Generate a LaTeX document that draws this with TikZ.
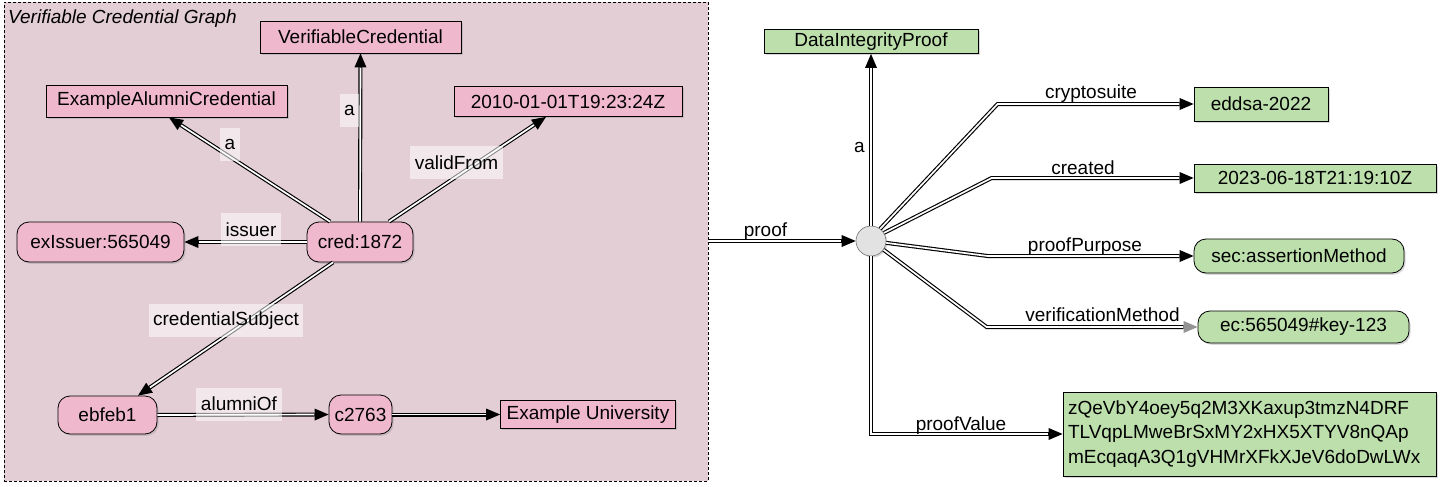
\documentclass[tikz,border=0pt]{standalone}
\usepackage{fontspec}
\setmainfont{Liberation Sans}
\usetikzlibrary{arrows.meta,shadows,calc}
\definecolor{framebg}{RGB}{227,206,214}
\definecolor{pinkc}{RGB}{240,184,205}
\definecolor{greenc}{RGB}{188,223,172}
\definecolor{blankc}{RGB}{226,226,226}
\begin{document}
\begin{tikzpicture}[x=1pt,y=-1pt,
  every node/.style={font=\fontsize{19}{23}\selectfont},
  framebox/.style={draw=black, line width=0.7pt, dash pattern=on 3pt off 2pt, fill=framebg, inner sep=0pt},
  ttl/.style={font=\fontsize{19}{23}\selectfont\itshape, inner sep=0pt},
  nbox/.style={draw=black, line width=0.8pt, inner sep=0pt,
    drop shadow={shadow xshift=1.6pt, shadow yshift=-1.8pt, opacity=0.3}},
  pbox/.style={nbox, fill=pinkc},
  gbox/.style={nbox, fill=greenc},
  rnd/.style={rounded corners=12pt},
  sz/.style 2 args={minimum width=#1pt, minimum height=#2pt},
  dedge/.style={line width=4pt, draw=black, -{Triangle[length=14pt,width=12pt,line width=0pt]},
    postaction={draw=white, line width=1.7pt, -, shorten >=14.5pt}},
  gedge/.style={line width=4pt, draw=black, -{Triangle[length=14pt,width=12pt,line width=0pt,color=gray!85]},
    postaction={draw=white, line width=1.7pt, -, shorten >=14.5pt}},
  elab/.style={fill=white, fill opacity=0.55, text opacity=1, inner xsep=4.5pt, inner ysep=0pt, minimum height=33pt},
  rlab/.style={anchor=base, inner sep=0pt},
]
\useasboundingbox (0,0) rectangle (1440,487);

% cluster frame
\node[framebox, anchor=north west, minimum width=704pt, minimum height=479pt] (frame) at (4,2) {};
\node[ttl, anchor=west] (title) at (8,19) {Verifiable Credential Graph};

% left graph nodes
\node[pbox, sz={201}{32}] (vc) at (360.5,37) {VerifiableCredential};
\node[pbox, sz={241}{32}] (alumni) at (166.5,101) {ExampleAlumniCredential};
\node[pbox, sz={228}{30}] (date) at (568,101.5) {2010-01-01T19:23:24Z};
\node[pbox, rnd, sz={167}{40}] (issuer) at (100.5,242) {exIssuer:565049};
\node[pbox, rnd, sz={106}{40}] (cred) at (360,242) {cred:1872};
\node[pbox, rnd, sz={99}{38}] (ebfeb) at (107.5,415) {ebfeb1};
\node[pbox, rnd, sz={63}{39}] (c2763) at (360.5,414.5) {c2763};
\node[pbox, sz={175}{28}] (univ) at (588,414.5) {Example University};

% right graph nodes
\node[gbox, sz={214}{24}] (dip) at (871,41.5) {DataIntegrityProof};
\node[circle, minimum size=30pt, inner sep=0pt, fill=blankc, draw=black!55, line width=0.6pt,
  drop shadow={shadow xshift=1.5pt, shadow yshift=-1.5pt, opacity=0.3}] (blank) at (871,241) {};
\node[gbox, sz={134}{34}] (eddsa) at (1261,104) {eddsa-2022};
\node[gbox, sz={242}{28}] (created) at (1315,178) {2023-06-18T21:19:10Z};
\node[gbox, rnd, sz={210}{34}] (sec) at (1299,256) {sec:assertionMethod};
\node[gbox, rnd, sz={211}{32}] (ec) at (1303.5,327) {ec:565049\#key-123};
\node[gbox, sz={373}{84}, text width=363pt, inner xsep=5pt, align=left,
  font=\fontsize{19}{24.5}\selectfont] (pv) at (1249.5,434)
  {zQeVbY4oey5q2M3XKaxup3tmzN4DRF\\TLVqpLMweBrSxMY2xHX5XTYV8nQAp\\mEcqaqA3Q1gVHMrXFkXJeV6doDwLWx};

% left edges
\draw[dedge] (cred.north) -- (vc.south);
\draw[dedge] ([xshift=-30pt]cred.north) -- ([xshift=2.5pt]alumni.south);
\draw[dedge] ([xshift=29pt]cred.north) -- ([xshift=-22pt]date.south);
\draw[dedge] (cred.west) -- (issuer.east);
\draw[dedge] ([xshift=-27pt]cred.south) -- ([xshift=30.5pt]ebfeb.north);
\draw[dedge] (ebfeb.east) -- (c2763.west);
\draw[dedge] (c2763.east) -- (univ.west);

% left edge labels
\node[elab, anchor=east] (la1) at (359.5,110) {a};
\node[elab] (la2) at (230,144.5) {a};
\node[elab] (lvf) at (456.5,162.5) {validFrom};
\node[elab] (lis) at (251,229.5) {issuer};
\node[elab] (lcs) at (226,320.5) {credentialSubject};
\node[elab] (lal) at (239,404) {alumniOf};

% right edges
\draw[dedge] (frame.east |- blank) -- (blank);
\draw[dedge] (blank.north) -- (dip.south);
\draw[dedge] (blank.53) -- ([xshift=-196pt]eddsa.west) -- (eddsa.west);
\draw[dedge] (blank.32) -- ([xshift=-202pt]created.west) -- (created.west);
\draw[dedge] (blank.-7) -- ([xshift=-206pt]sec.west) -- (sec.west);
\draw[gedge] (blank.-35) -- ([xshift=-211pt]ec.west) -- (ec.west);
\draw[dedge] (blank.south) |- (pv.west);

% right edge labels
\node[rlab] (lpr) at (765.5,236) {proof};
\node[rlab, anchor=base east] (la3) at (865,152) {a};
\node[rlab] (lcr) at (1091,98) {cryptosuite};
\node[rlab] (lcd) at (1083,174.5) {created};
\node[rlab] (lpp) at (1085,251) {proofPurpose};
\node[rlab] (lvm) at (1102.5,321) {verificationMethod};
\node[rlab] (lpv) at (961,430.5) {proofValue};
\end{tikzpicture}
\end{document}
